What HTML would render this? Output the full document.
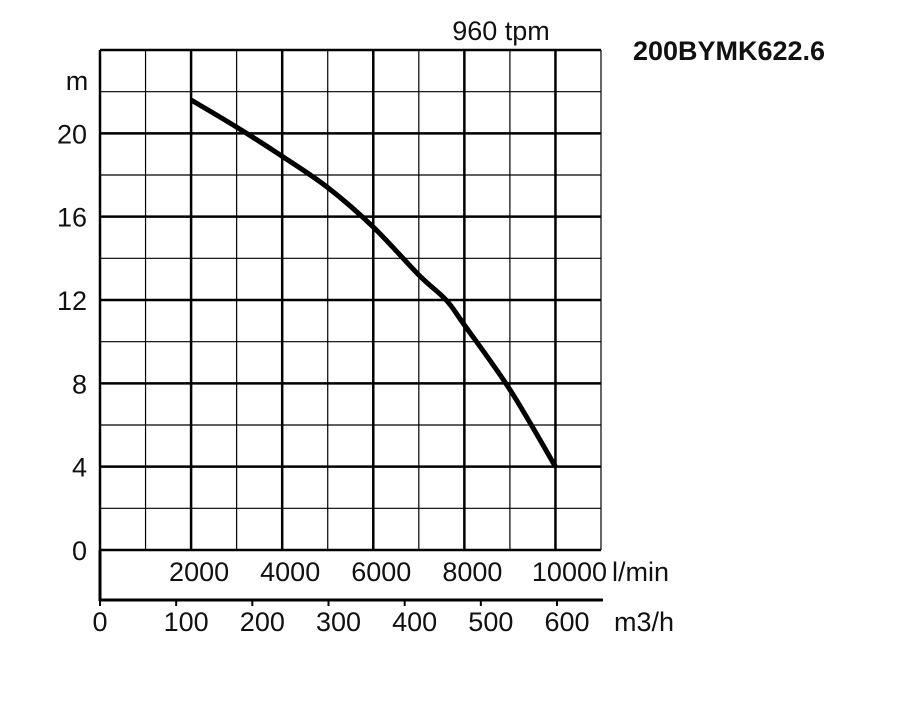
<!DOCTYPE html>
<html><head><meta charset="utf-8"><style>
body{margin:0;background:#fff;width:900px;height:700px;overflow:hidden}
text{font-family:"Liberation Sans",Arial,sans-serif;fill:#111}
</style></head><body>
<svg id="chart" width="900" height="700" viewBox="0 0 900 700">
<g id="grid"></g>
<g id="labels"></g>
<text x="501" y="40" font-size="27" text-anchor="middle">960 tpm</text>
<text x="729" y="60" font-size="27" font-weight="bold" text-anchor="middle">200BYMK622.6</text>
<text x="77" y="90" font-size="27" text-anchor="middle">m</text>
<text x="612" y="581" font-size="27">l/min</text>
<text x="614" y="631" font-size="27">m3/h</text>
<path id="curve" fill="none" stroke="#000" stroke-width="5" stroke-linejoin="round"/>
</svg>
<script>
const flowLmin=[2000,3000,4000,5000,6000,7000,7600,8000,9000,10000];
const headM=[21.6,20.3,18.9,17.4,15.5,13.2,12.0,10.8,7.7,4.0];
const yTicks=[0,4,8,12,16,20];
const lminTicks=[2000,4000,6000,8000,10000];
const m3hTicks=[0,100,200,300,400,500,600];
const X=v=>100+(v/11000)*501;
const Y=v=>550-(v/24)*500;
const XM=v=>100+v*(457/600);
const ns="http://www.w3.org/2000/svg";
function mk(p,t,a){const e=document.createElementNS(ns,t);for(const k in a)e.setAttribute(k,a[k]);p.appendChild(e);return e;}
const g=document.getElementById('grid'),L=document.getElementById('labels');
for(let i=0;i<=11;i++){const x=X(i*1000);
const l=mk(g,'line',{x1:x,x2:x,y1:50,y2:550,stroke:'#000','stroke-width':i%2===0?2.5:1.2});

}
for(let i=0;i<=12;i++){const y=Y(i*2);
const l=mk(g,'line',{x1:100,x2:601,y1:y,y2:y,stroke:'#000','stroke-width':i%2===0?2.5:1.2});

}
const b=mk(g,'path',{d:'M100,550 V601 M100,600 H603',stroke:'#000','stroke-width':3,fill:'none'});


yTicks.forEach(v=>{const t=mk(L,'text',{x:87,y:Y(v)+10,'font-size':27,'text-anchor':'end'});t.textContent=v;

});
lminTicks.forEach(v=>{const t=mk(L,'text',{x:X(v)+8+(v===10000?6:0),y:581,'font-size':27,'text-anchor':'middle'});t.textContent=v;

});
m3hTicks.forEach(v=>{const x=XM(v);
const k=mk(L,'line',{x1:x,x2:x,y1:600,y2:606,stroke:'#000','stroke-width':2});


const t=mk(L,'text',{x:v===0?x:x+10,y:631,'font-size':27,'text-anchor':'middle'});t.textContent=v;

});
const P=flowLmin.map((f,i)=>[X(f),Y(headM[i])]);
let d='M'+P[0][0].toFixed(1)+','+P[0][1].toFixed(1);
for(let i=0;i<P.length-1;i++){const p0=P[Math.max(0,i-1)],p1=P[i],p2=P[i+1],p3=P[Math.min(P.length-1,i+2)];
const c1=[p1[0]+(p2[0]-p0[0])/6,p1[1]+(p2[1]-p0[1])/6],c2=[p2[0]-(p3[0]-p1[0])/6,p2[1]-(p3[1]-p1[1])/6];
d+=' C'+c1.map(n=>n.toFixed(1)).join(',')+' '+c2.map(n=>n.toFixed(1)).join(',')+' '+p2.map(n=>n.toFixed(1)).join(',');}
document.getElementById('curve').setAttribute('d',d);
</script>
</body></html>
